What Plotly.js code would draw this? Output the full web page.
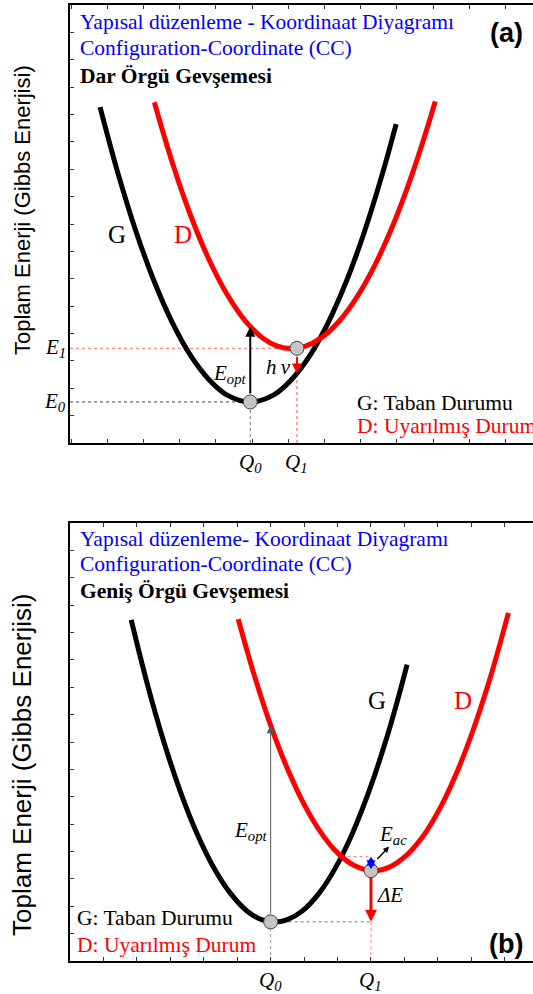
<!DOCTYPE html>
<html>
<head>
<meta charset="utf-8">
<script src="https://cdn.plot.ly/plotly-3.0.1.min.js"></script>
<style>
  html, body { margin: 0; padding: 0; overflow: hidden; background: #fff; }
  #wrap { width: 533px; height: 994px; overflow: hidden; position: relative; }
  #chart { width: 600px; height: 994px; }
</style>
</head>
<body>
<div id="wrap"><div id="chart"></div></div>
<script>
// ---- Panel (a): narrow lattice relaxation ----
// ground-state curve G
const gA_q = [0.80, 1.30, 1.80, 2.30, 2.80, 3.30, 3.80, 4.30, 4.95, 5.60, 6.10, 6.60, 7.10, 7.60, 8.10, 8.60, 8.98];
const gA_e = [12.27, 9.83, 7.70, 5.89, 4.39, 3.20, 2.33, 1.76, 1.50, 1.76, 2.33, 3.20, 4.39, 5.89, 7.70, 9.83, 11.65];
// excited-state curve D
const dA_q = [2.30, 2.80, 3.30, 3.80, 4.30, 4.80, 5.30, 5.70, 6.08, 6.46, 6.90, 7.40, 7.90, 8.40, 8.90, 9.40, 9.80, 10.06];
const dA_e = [12.45, 10.23, 8.32, 6.73, 5.45, 4.48, 3.83, 3.54, 3.45, 3.53, 3.83, 4.44, 5.34, 6.52, 7.98, 9.73, 11.34, 12.48];
// equilibrium coordinates and energies
const qA = [4.95, 6.24];          // Q0, Q1
const eA = [1.50, 3.46];          // E0, E1
const eOptTopA = 4.25;            // D energy at Q0
const hvEndA = 2.54;              // G energy at Q1

// ---- Panel (b): wide lattice relaxation ----
const gB_q = [1.83, 2.30, 2.80, 3.30, 3.80, 4.30, 4.80, 5.30, 5.75, 6.12, 6.50, 6.95, 7.45, 7.95, 8.45, 8.95, 9.45, 9.80, 10.08];
const gB_e = [12.46, 10.17, 8.03, 6.19, 4.65, 3.41, 2.47, 1.82, 1.50, 1.42, 1.51, 1.83, 2.48, 3.43, 4.68, 6.23, 8.07, 9.55, 10.83];
const dB_q = [5.03, 5.50, 6.00, 6.50, 7.00, 7.50, 8.00, 8.50, 9.08, 9.55, 10.05, 10.55, 11.05, 11.55, 12.05, 12.55, 13.11];
const dB_e = [12.49, 10.48, 8.61, 7.03, 5.72, 4.70, 3.95, 3.49, 3.30, 3.43, 3.85, 4.55, 5.55, 6.84, 8.42, 10.28, 12.72];
const qB = [6.00, 9.00];          // Q0, Q1
const eB = [1.43, 3.30];          // E0, E1
const eOptTopB = 8.61;            // D energy at Q0
const crossB = [8.12, 3.82];      // G/D crossing (Q, E)

// ---- Text ----
const yTitle = 'Toplam Enerji (Gibbs Enerjisi)';
const titlesA = ['Yapısal düzenleme - Koordinaat Diyagramı', 'Configuration-Coordinate (CC)', 'Dar Örgü Gevşemesi'];
const titlesB = ['Yapısal düzenleme- Koordinaat Diyagramı', 'Configuration-Coordinate (CC)', 'Geniş Örgü Gevşemesi'];
const stateG = 'G: Taban Durumu';
const stateD = 'D: Uyarılmış Durum';

const SERIF = "'Liberation Serif', 'Times New Roman', serif";
const SANS = "'Liberation Sans', Arial, sans-serif";
const RED = '#ff0000';
const xminA = -0.03;
const xminB = 0;

const traces = [];
function curve(xa, ya, q, e, color) {
  traces.push({ type: 'scatter', mode: 'lines', xaxis: xa, yaxis: ya, x: q, y: e,
    line: { color: color, width: 5, shape: 'spline', smoothing: 1 }, hoverinfo: 'skip' });
}
function guide(xa, ya, x, y, color) {
  traces.push({ type: 'scatter', mode: 'lines', xaxis: xa, yaxis: ya, x: x, y: y,
    line: { color: color, width: 1, dash: 'dot' }, hoverinfo: 'skip' });
}

// panel (a) guides and curves
guide('x', 'y', [xminA, qA[1]], [eA[1], eA[1]], '#ff7070');
guide('x', 'y', [xminA, qA[0]], [eA[0], eA[0]], '#444');
guide('x', 'y', [qA[0], qA[0]], [0, eA[0]], '#777');
guide('x', 'y', [qA[1], qA[1]], [0, hvEndA], '#ff5050');
curve('x', 'y', gA_q, gA_e, '#000');
curve('x', 'y', dA_q, dA_e, RED);

// panel (b) guides and curves
guide('x2', 'y2', [qB[0], qB[1]], [eB[0], eB[0]], '#777');
guide('x2', 'y2', [qB[0], qB[0]], [0, eB[0]], '#999');
guide('x2', 'y2', [qB[1], qB[1]], [0, eB[0]], '#ff8080');
guide('x2', 'y2', [crossB[0], qB[1]], [crossB[1], crossB[1]], '#ff8080');
curve('x2', 'y2', gB_q, gB_e, '#000');
curve('x2', 'y2', dB_q, dB_e, RED);

// equilibrium points
const dot = { size: 14, color: '#c4c4c4', line: { color: '#444', width: 1 } };
traces.push({ type: 'scatter', mode: 'markers', xaxis: 'x', yaxis: 'y', x: qA, y: eA, marker: dot, hoverinfo: 'skip' });
traces.push({ type: 'scatter', mode: 'markers', xaxis: 'x2', yaxis: 'y2', x: qB, y: eB, marker: dot, hoverinfo: 'skip' });

const ann = [];
function txt(o) { ann.push(Object.assign({ showarrow: false, xanchor: 'center', yanchor: 'middle' }, o)); }
function arrow(o) { ann.push(Object.assign({ text: '', showarrow: true, arrowhead: 2, arrowsize: 1, standoff: 0, startstandoff: 0 }, o)); }

// headings
[0, 1, 2].forEach(i => {
  const f = { family: SERIF, size: 21.5, color: i < 2 ? '#0000ff' : '#000' };
  txt({ xref: 'paper', yref: 'paper', x: 0.0157, y: [0.9779, 0.9517, 0.9235][i], xanchor: 'left',
        text: i < 2 ? titlesA[i] : '<b>' + titlesA[i] + '</b>', font: f });
  txt({ xref: 'paper', yref: 'paper', x: 0.0157, y: [0.4577, 0.4326, 0.4054][i], xanchor: 'left',
        text: i < 2 ? titlesB[i] : '<b>' + titlesB[i] + '</b>', font: f });
});
txt({ xref: 'paper', yref: 'paper', x: 0.855, y: 0.9668, text: '<b>(a)</b>', font: { family: SANS, size: 27, color: '#000' } });
txt({ xref: 'paper', yref: 'paper', x: 0.855, y: 0.0503, text: '<b>(b)</b>', font: { family: SANS, size: 27, color: '#000' } });
txt({ xref: 'paper', yref: 'paper', x: -0.0941, y: 0.7887, textangle: -90, text: yTitle, font: { family: SANS, size: 22, color: '#000' } });
txt({ xref: 'paper', yref: 'paper', x: -0.0941, y: 0.2304, textangle: -90, text: yTitle, font: { family: SANS, size: 26, color: '#000' } });

// state legends
txt({ xref: 'paper', yref: 'paper', x: 0.5588, y: 0.5946, xanchor: 'left', text: stateG, font: { family: SERIF, size: 21.5, color: '#000' } });
txt({ xref: 'paper', yref: 'paper', x: 0.5588, y: 0.5714, xanchor: 'left', text: stateD, font: { family: SERIF, size: 21.5, color: RED } });
txt({ xref: 'paper', yref: 'paper', x: 0.0098, y: 0.0765, xanchor: 'left', text: stateG, font: { family: SERIF, size: 21.5, color: '#000' } });
txt({ xref: 'paper', yref: 'paper', x: 0.0098, y: 0.0493, xanchor: 'left', text: stateD, font: { family: SERIF, size: 21.5, color: RED } });

// curve names
txt({ xref: 'x', yref: 'y', x: 1.27, y: 7.63, text: 'G', font: { family: SERIF, size: 25, color: '#000' } });
txt({ xref: 'x', yref: 'y', x: 3.09, y: 7.63, text: 'D', font: { family: SERIF, size: 25, color: RED } });
txt({ xref: 'x2', yref: 'y2', x: 9.18, y: 9.53, text: 'G', font: { family: SERIF, size: 25, color: '#000' } });
txt({ xref: 'x2', yref: 'y2', x: 11.75, y: 9.53, text: 'D', font: { family: SERIF, size: 25, color: RED } });

// axis position labels
const lab = { family: SERIF, size: 21, color: '#000' };
function sub(s, n) { return '<i>' + s + '</i><sub><i>' + n + '</i></sub>'; }
txt({ xref: 'x', yref: 'y', x: qA[0], y: 0, yshift: -20, text: sub('Q', 0), font: lab });
txt({ xref: 'x', yref: 'y', x: qA[1], y: 0, yshift: -20, text: sub('Q', 1), font: lab });
txt({ xref: 'x', yref: 'y', x: xminA, xshift: -15, y: eA[0], text: sub('E', 0), font: lab });
txt({ xref: 'x', yref: 'y', x: xminA, xshift: -15, y: eA[1], text: sub('E', 1), font: lab });
txt({ xref: 'x2', yref: 'y2', x: qB[0], y: 0, yshift: -20, text: sub('Q', 0), font: lab });
txt({ xref: 'x2', yref: 'y2', x: qB[1], y: 0, yshift: -20, text: sub('Q', 1), font: lab });

// transitions, panel (a)
arrow({ xref: 'x', yref: 'y', axref: 'x', ayref: 'y', x: qA[0], y: eOptTopA, ax: qA[0], ay: eA[0] + 0.25, arrowcolor: '#000', arrowwidth: 2 });
arrow({ xref: 'x', yref: 'y', axref: 'x', ayref: 'y', x: qA[1], y: hvEndA, ax: qA[1], ay: eA[1] - 0.25, arrowcolor: RED, arrowwidth: 2 });
txt({ xref: 'x', yref: 'y', x: 4.39, y: 2.52, text: sub('E', 'opt'), font: lab });
txt({ xref: 'x', yref: 'y', x: 5.72, y: 2.78, text: '<i>h</i>\u2009<i>ν</i>', font: lab });

// transitions, panel (b)
arrow({ xref: 'x2', yref: 'y2', axref: 'x2', ayref: 'y2', x: qB[0], y: eOptTopB, ax: qB[0], ay: eB[0] + 0.25, arrowcolor: '#555', arrowwidth: 1, arrowsize: 1.6 });
arrow({ xref: 'x2', yref: 'y2', axref: 'x2', ayref: 'y2', x: qB[1], y: eB[0], ax: qB[1], ay: eB[1] - 0.2, arrowcolor: RED, arrowwidth: 3, arrowsize: 0.8 });
arrow({ xref: 'x2', yref: 'y2', axref: 'x2', ayref: 'y2', x: qB[1], y: crossB[1], ax: qB[1], ay: eB[1], arrowcolor: '#0000ff', arrowwidth: 3, arrowsize: 0.6, arrowside: 'end+start' });
arrow({ xref: 'x2', yref: 'y2', x: 9.54, y: 4.18, ax: -13, ay: 14, arrowcolor: '#000', arrowwidth: 1.5, arrowsize: 0.8 });
txt({ xref: 'x2', yref: 'y2', x: 5.41, y: 4.75, text: sub('E', 'opt'), font: lab });
txt({ xref: 'x2', yref: 'y2', x: 9.66, y: 4.6, text: sub('E', 'ac'), font: lab });
txt({ xref: 'x2', yref: 'y2', x: 9.57, y: 2.41, text: '<i>ΔE</i>', font: lab });

const axBase = {
  showgrid: false, zeroline: false, showline: true, linecolor: '#000', linewidth: 2, mirror: 'ticks',
  ticks: 'inside', ticklen: 4, tickwidth: 1, tickcolor: '#333', tickmode: 'linear', tick0: 0, dtick: 1,
  showticklabels: false, fixedrange: true
};
const layout = {
  width: 600, height: 994,
  margin: { l: 70, r: 20, t: 0, b: 0 },
  paper_bgcolor: '#fff', plot_bgcolor: '#fff', showlegend: false,
  xaxis: Object.assign({}, axBase, { anchor: 'y', range: [xminA, 14.06] }),
  yaxis: Object.assign({}, axBase, { anchor: 'x', domain: [0.5543, 0.99497], range: [0, 16] }),
  xaxis2: Object.assign({}, axBase, { anchor: 'y2', range: [xminB, 15.25] }),
  yaxis2: Object.assign({}, axBase, { anchor: 'x2', domain: [0.0332, 0.47384], range: [0, 16] }),
  annotations: ann
};
Plotly.newPlot('chart', traces, layout, { staticPlot: true, displayModeBar: false });
</script>
</body>
</html>
